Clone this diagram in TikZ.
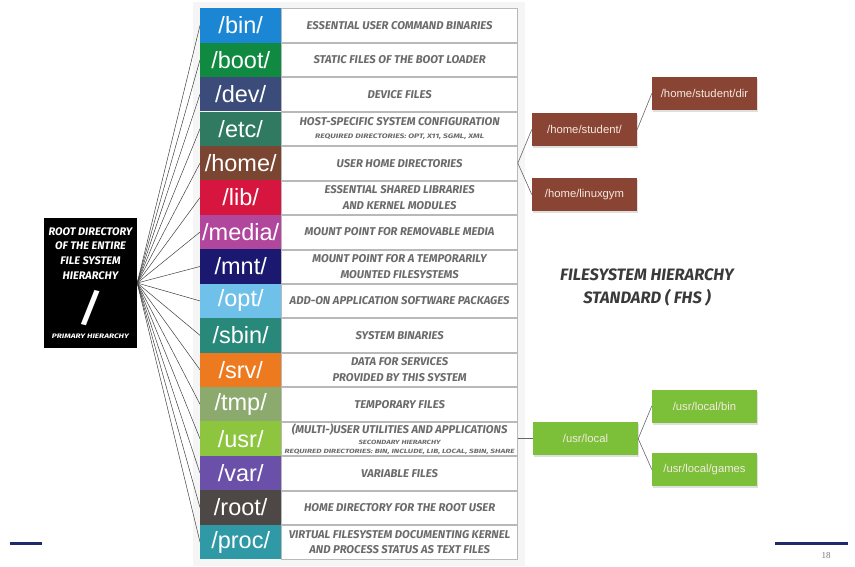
\documentclass[tikz,border=0pt]{standalone}
\usepackage{fontspec}
\setmainfont{Liberation Sans}
\newfontfamily\fhsfont{Fira Sans}
\newfontfamily\slidefont{Liberation Serif}
\usetikzlibrary{positioning,shadows}
\definecolor{cbin}{HTML}{1B87D4}
\definecolor{cboot}{HTML}{0F8A40}
\definecolor{cdev}{HTML}{3B4C7A}
\definecolor{cetc}{HTML}{2F7A61}
\definecolor{chome}{HTML}{7B4631}
\definecolor{clib}{HTML}{D6163F}
\definecolor{cmedia}{HTML}{B0479D}
\definecolor{cmnt}{HTML}{1B1870}
\definecolor{copt}{HTML}{6FC1EA}
\definecolor{csbin}{HTML}{28897B}
\definecolor{csrv}{HTML}{EE7A20}
\definecolor{ctmp}{HTML}{8CAA6E}
\definecolor{cusr}{HTML}{8DC53E}
\definecolor{cvar}{HTML}{6A50A8}
\definecolor{croot}{HTML}{4D4846}
\definecolor{cproc}{HTML}{2F9AA5}
\definecolor{subbrown}{HTML}{8A4434}
\definecolor{subgreen}{HTML}{7CC03A}
\definecolor{subtext}{HTML}{F5E9DF}
\definecolor{descgray}{HTML}{6B6B6B}
\definecolor{titlegray}{HTML}{3A3A3A}
\definecolor{slidenavy}{HTML}{1F2A6B}
\newcommand{\squeeze}[3]{\resizebox{#1}{#2}{#3}}
\tikzset{
  dirtile/.style={rectangle, anchor=north west, minimum width=81pt, minimum height=34.4pt,
    inner sep=0pt, text=white, font=\fontsize{23.5}{23.5}\selectfont},
  dirdesc/.style={rectangle, draw=gray!55, fill=white, minimum width=236pt, minimum height=33.4pt,
    inner sep=0pt, align=center, text=descgray, font=\fhsfont\bfseries\itshape\fontsize{11.3}{15.5}\selectfont},
  subdir/.style={rectangle, minimum width=105pt, minimum height=33pt, inner sep=0pt, text=subtext,
    font=\fontsize{11.3}{12}\selectfont, drop shadow={opacity=0.25, shadow xshift=1pt, shadow yshift=-2pt}},
  fan/.style={draw=black!75, line width=0.5pt},
  branch/.style={draw=black!60, line width=0.6pt},
}
\begin{document}
\begin{tikzpicture}[x=1pt,y=-1pt]
\useasboundingbox (0,0) rectangle (855,567);
\fill[black!4] (193,2) rectangle (525,566);

\node[rectangle, fill=black, text=white, minimum width=93pt, minimum height=130pt, inner sep=0pt,
  align=center, font=\fhsfont\bfseries\itshape\fontsize{11}{14.8}\selectfont] (fsroot) at (90.5,283)
  {ROOT DIRECTORY\\OF THE ENTIRE\\FILE SYSTEM\\HIERARCHY\\[10pt]
   {\fontsize{38}{38}\selectfont /}\\[2pt]\squeeze{77pt}{4.6pt}{PRIMARY HIERARCHY}};

\foreach \name/\col/\desc [count=\i] in {
  bin/cbin/{ESSENTIAL USER COMMAND BINARIES},
  boot/cboot/{STATIC FILES OF THE BOOT LOADER},
  dev/cdev/{DEVICE FILES},
  etc/cetc/{HOST-SPECIFIC SYSTEM CONFIGURATION\\[-3pt]\squeeze{169pt}{4.6pt}{REQUIRED DIRECTORIES: OPT, X11, SGML, XML}},
  home/chome/{USER HOME DIRECTORIES},
  lib/clib/{ESSENTIAL SHARED LIBRARIES\\AND KERNEL MODULES},
  media/cmedia/{MOUNT POINT FOR REMOVABLE MEDIA},
  mnt/cmnt/{MOUNT POINT FOR A TEMPORARILY\\MOUNTED FILESYSTEMS},
  opt/copt/{ADD-ON APPLICATION SOFTWARE PACKAGES},
  sbin/csbin/{SYSTEM BINARIES},
  srv/csrv/{DATA FOR SERVICES\\PROVIDED BY THIS SYSTEM},
  tmp/ctmp/{TEMPORARY FILES},
  usr/cusr/{(MULTI-)USER UTILITIES AND APPLICATIONS\\[-4.5pt]\squeeze{82pt}{4.3pt}{SECONDARY HIERARCHY}\\[-6.5pt]\squeeze{230pt}{4.3pt}{REQUIRED DIRECTORIES: BIN, INCLUDE, LIB, LOCAL, SBIN, SHARE}},
  var/cvar/{VARIABLE FILES},
  root/croot/{HOME DIRECTORY FOR THE ROOT USER},
  proc/cproc/{VIRTUAL FILESYSTEM DOCUMENTING KERNEL\\AND PROCESS STATUS AS TEXT FILES}} {
  \node[dirtile, fill=\col] (\name) at (200,{8+34.44*(\i-1)}) {/\name/};
  \node[dirdesc, anchor=west] (\name-d) at (\name.east) {\desc};
  \draw[fan] (fsroot.east) -- (\name.west);
}

\node[subdir, fill=subbrown] (hstud) at (584.5,129.5) {/home/student/};
\node[subdir, fill=subbrown] (hdir) at (704.5,93.5) {/home/student/dir};
\node[subdir, fill=subbrown] (hgym) at (584.5,194.5) {/home/linuxgym};
\node[subdir, fill=subgreen, right=15pt of usr-d] (ulocal) {/usr/local};
\node[subdir, fill=subgreen] (ubin) at (704.5,406) {/usr/local/bin};
\node[subdir, fill=subgreen] (ugames) at (704.5,469.5) {/usr/local/games};

\path[branch]
  (home-d.east) edge (hstud.west)
  (home-d.east) edge (hgym.west)
  (hstud.east) edge (hdir.west)
  (usr-d.east) edge (ulocal.west)
  (ulocal.east) edge (ubin.west)
  (ulocal.east) edge (ugames.west);

\node[align=center, text=titlegray, font=\fhsfont\bfseries\itshape\fontsize{16.5}{23}\selectfont]
  (fhs) at (647,287) {FILESYSTEM HIERARCHY\\STANDARD ( FHS )};

\draw[slidenavy, line width=3pt] (10,543) -- (42,543);
\draw[slidenavy, line width=3pt] (775,543) -- (848,543);
\node[text=black!55, font=\slidefont\fontsize{9}{9}\selectfont] (pagenum) at (826,556) {18};
\end{tikzpicture}
\end{document}
